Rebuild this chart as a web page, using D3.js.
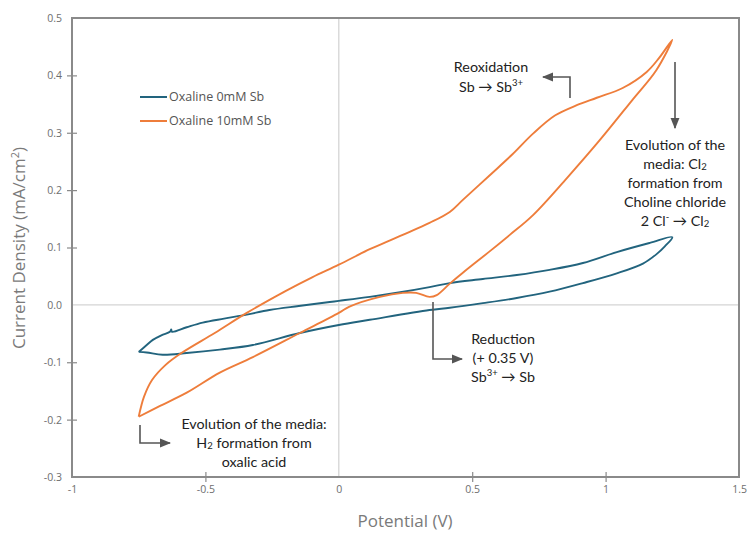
<!DOCTYPE html>
<html>
<head>
<meta charset="utf-8">
<script src="https://cdn.jsdelivr.net/npm/d3@7"></script>
<style>
  html, body { margin: 0; padding: 0; background: #fff; }
  svg { display: block; }
</style>
</head>
<body>
<svg id="chart" width="747" height="535"></svg>
<script>
// Cyclic voltammograms of oxaline with and without Sb (potential V, current density mA/cm2)
const seriesNames = ["Oxaline 0mM Sb", "Oxaline 10mM Sb"];
const seriesColors = ["#22647e", "#ee7d3b"];

const potential0 = [-0.75, -0.72, -0.697, -0.665, -0.633, -0.628, -0.625, -0.57, -0.51, -0.43, -0.345, -0.26, -0.15, -0.034, 0.0, 0.116, 0.23, 0.34, 0.416, 0.54, 0.667, 0.79, 0.915, 1.042, 1.166, 1.25,
  1.222, 1.19, 1.14, 1.042, 0.915, 0.79, 0.667, 0.54, 0.416, 0.34, 0.116, 0.0, -0.146, -0.322, -0.446, -0.57, -0.66, -0.72, -0.75];
const current0 = [-0.082, -0.070, -0.061, -0.053, -0.047, -0.043, -0.047, -0.039, -0.031, -0.024, -0.017, -0.009, -0.002, 0.005, 0.007, 0.014, 0.022, 0.031, 0.038, 0.045, 0.052, 0.061, 0.073, 0.092, 0.108, 0.118,
  0.102, 0.088, 0.072, 0.055, 0.038, 0.023, 0.012, 0.003, -0.005, -0.009, -0.026, -0.035, -0.049, -0.070, -0.078, -0.084, -0.087, -0.083, -0.082];

const potential10 = [-0.75, -0.73, -0.70, -0.65, -0.59, -0.465, -0.345, -0.2, -0.1, 0.0, 0.116, 0.19, 0.34, 0.416, 0.465, 0.566, 0.65, 0.727, 0.81, 0.892, 0.967, 1.064, 1.154, 1.2, 1.25,
  1.19, 1.10, 0.978, 0.855, 0.727, 0.641, 0.57, 0.465, 0.416, 0.367, 0.34, 0.29, 0.24, 0.154, 0.04, 0.0, -0.146, -0.322, -0.446, -0.57, -0.67, -0.75];
const current10 = [-0.195, -0.160, -0.131, -0.105, -0.084, -0.049, -0.014, 0.024, 0.048, 0.070, 0.097, 0.112, 0.143, 0.162, 0.183, 0.226, 0.262, 0.298, 0.330, 0.348, 0.361, 0.378, 0.406, 0.430, 0.462,
  0.409, 0.357, 0.287, 0.221, 0.156, 0.122, 0.095, 0.056, 0.037, 0.017, 0.014, 0.021, 0.021, 0.014, -0.003, -0.014, -0.049, -0.091, -0.118, -0.153, -0.176, -0.195];

const xTicks = [-1, -0.5, 0, 0.5, 1, 1.5];
const xTickLabels = ["-1", "-0.5", "0", "0.5", "1", "1.5"];
const yTicks = [-0.3, -0.2, -0.1, 0.0, 0.1, 0.2, 0.3, 0.4, 0.5];
const yTickLabels = ["-0.3", "-0.2", "-0.1", "0.0", "0.1", "0.2", "0.3", "0.4", "0.5"];

const svg = d3.select("#chart");
const plot = { left: 72, right: 739, top: 18, bottom: 477 };

const x = d3.scaleLinear().domain([-1, 1.5]).range([plot.left, plot.right]);
const y = d3.scaleLinear().domain([-0.3, 0.5]).range([plot.bottom, plot.top]);

const frameColor = "#8a8a8a";
const tickTextColor = "#6e6e6e";

// zero lines
svg.append("line").attr("x1", x(0)).attr("x2", x(0)).attr("y1", plot.top).attr("y2", plot.bottom)
  .attr("stroke", "#d4d4d4").attr("stroke-width", 1.3);
svg.append("line").attr("x1", plot.left).attr("x2", plot.right).attr("y1", y(0)).attr("y2", y(0))
  .attr("stroke", "#d4d4d4").attr("stroke-width", 1.3);

// axes
const xAxis = d3.axisBottom(x).tickValues(xTicks).tickFormat((d, i) => xTickLabels[i]).tickSize(5).tickPadding(4);
const yAxis = d3.axisLeft(y).tickValues(yTicks).tickFormat((d, i) => yTickLabels[i]).tickSize(5).tickPadding(9);

const gx = svg.append("g").attr("transform", `translate(0,${plot.bottom})`).call(xAxis);
const gy = svg.append("g").attr("transform", `translate(${plot.left},0)`).call(yAxis);
[gx, gy].forEach(g => {
  g.select(".domain").remove();
  g.selectAll(".tick line").attr("stroke", frameColor).attr("stroke-width", 1.2);
  g.selectAll(".tick text").attr("fill", tickTextColor).attr("font-family", "'Open Sans', sans-serif").attr("font-size", 10.5);
});
// ticks cross the axis line
gx.selectAll(".tick line").attr("y1", -5).attr("y2", 5);
gy.selectAll(".tick line").attr("x1", -5).attr("x2", 5);
gy.selectAll(".tick text").attr("x", -10);
gx.selectAll(".tick").filter(d => d === 0 || d === -1 || d === 1.5).select("line").remove();
gy.selectAll(".tick").filter(d => d === 0 || d === 0.5 || d === -0.3).select("line").remove();

// plot frame
svg.append("rect").attr("x", plot.left).attr("y", plot.top)
  .attr("width", plot.right - plot.left).attr("height", plot.bottom - plot.top)
  .attr("fill", "none").attr("stroke", frameColor).attr("stroke-width", 2);

// curves
const path = d3.line().x(d => x(d[0])).y(d => y(d[1])).curve(d3.curveCatmullRom.alpha(0.5));
const series = [
  d3.zip(potential0, current0),
  d3.zip(potential10, current10)
];
series.forEach((pts, i) => {
  svg.append("path").attr("d", path(pts)).attr("fill", "none")
    .attr("stroke", seriesColors[i]).attr("stroke-width", 1.9).attr("stroke-linejoin", "round");
});

// legend
const legend = svg.append("g").attr("transform", "translate(140,97)");
seriesNames.forEach((name, i) => {
  const g = legend.append("g").attr("transform", `translate(0,${i * 24})`);
  g.append("line").attr("x1", 0).attr("x2", 27).attr("stroke", seriesColors[i]).attr("stroke-width", 2);
  g.append("text").attr("x", 29).attr("dy", "0.35em").text(name)
    .attr("fill", "#555").attr("font-family", "'Open Sans', sans-serif").attr("font-size", 12.5);
});

// axis titles
svg.append("text").attr("x", 405).attr("y", 527).attr("text-anchor", "middle")
  .attr("fill", "#7a7a7a").attr("font-family", "'Open Sans', sans-serif").attr("font-size", 17)
  .text("Potential (V)");
const yt = svg.append("text").attr("transform", "translate(25,248) rotate(-90)").attr("text-anchor", "middle")
  .attr("fill", "#7a7a7a").attr("font-family", "'Open Sans', sans-serif").attr("font-size", 17);
yt.append("tspan").text("Current Density (mA/cm");
yt.append("tspan").attr("dy", -6).attr("font-size", 11).text("2");
yt.append("tspan").attr("dy", 6).text(")");

// annotations
const defs = svg.append("defs");
defs.append("marker").attr("id", "arrowhead").attr("viewBox", "0 0 10 10").attr("refX", 9).attr("refY", 5)
  .attr("markerWidth", 7).attr("markerHeight", 7).attr("orient", "auto-start-reverse")
  .append("path").attr("d", "M0,1 L10,5 L0,9 Z").attr("fill", "#555");

const annColor = "#555";
function arrow(pts) {
  svg.append("path").attr("d", d3.line()(pts)).attr("fill", "none").attr("stroke", annColor)
    .attr("stroke-width", 1.6).attr("marker-end", "url(#arrowhead)");
}
// each line: array of [text, kind] where kind: "", "sub", "sup"
function label(cx, cy, lines, lh) {
  lines.forEach((parts, i) => {
    const t = svg.append("text").attr("x", cx).attr("y", cy + i * lh).attr("text-anchor", "middle")
      .attr("dominant-baseline", "middle").attr("fill", "#222")
      .attr("font-family", "Lato, 'Open Sans', sans-serif").attr("font-size", 14.3);
    parts.forEach(([s, kind]) => {
      const sp = t.append("tspan").text(s);
      if (kind === "sub") sp.attr("font-size", 9.5).attr("baseline-shift", "-25%");
      if (kind === "sup") sp.attr("font-size", 9.5).attr("baseline-shift", "45%");
    });
  });
}

arrow([[570, 98], [570, 77], [543, 77]]);
label(491, 68, [[["Reoxidation", ""]], [["Sb \u2192 Sb", ""], ["3+", "sup"]]], 20);

arrow([[675, 62], [675, 128]]);
label(675, 146, [
  [["Evolution of the", ""]],
  [["media: Cl", ""], ["2", "sub"]],
  [["formation from", ""]],
  [["Choline chloride", ""]],
  [["2 Cl", ""], ["-", "sup"], [" \u2192 Cl", ""], ["2", "sub"]]
], 19);

arrow([[433, 302], [433, 359], [462, 359]]);
label(503, 340, [
  [["Reduction", ""]],
  [["(+ 0.35 V)", ""]],
  [["Sb", ""], ["3+", "sup"], [" \u2192 Sb", ""]]
], 19);

arrow([[140, 425], [140, 443], [170, 443]]);
label(254, 425, [
  [["Evolution of the media:", ""]],
  [["H", ""], ["2", "sub"], [" formation from", ""]],
  [["oxalic acid", ""]]
], 19);
</script>
</body>
</html>
